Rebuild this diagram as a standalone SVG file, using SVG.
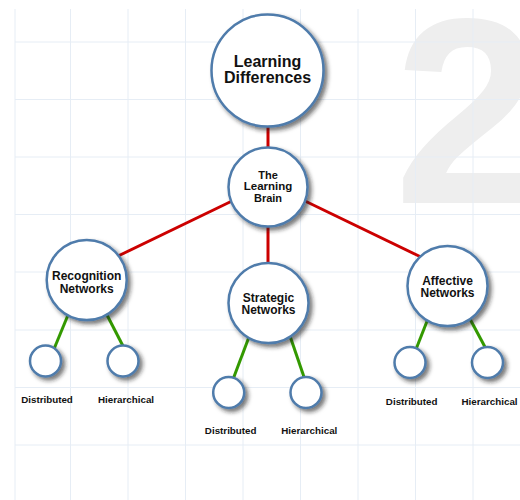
<svg xmlns="http://www.w3.org/2000/svg" width="520" height="500" viewBox="0 0 520 500">
  <style>
    .grid line { stroke: #e6edf5; stroke-width: 1; }
    .node circle { fill: #ffffff; stroke: #4f7bab; stroke-width: 2.5; filter: url(#shadow); }
    .title { font-family: "Liberation Sans", Arial, sans-serif; font-weight: bold; fill: #111111; text-anchor: middle; }
    .label { font-family: "Liberation Sans", Arial, sans-serif; font-weight: bold; font-size: 9.8px; fill: #111111; text-anchor: middle; }
    .red { stroke: #cc0000; stroke-width: 3; }
    .green { stroke: #339900; stroke-width: 3; }
  </style>
  <defs>
    <filter id="shadow" x="-30%" y="-30%" width="170%" height="170%">
      <feDropShadow dx="3" dy="3" stdDeviation="2" flood-color="#222222" flood-opacity="0.6"/>
    </filter>
  </defs>

  <rect width="520" height="500" fill="#ffffff"/>

  <!-- watermark numeral -->
  <text x="394" y="203" font-family="Liberation Sans, Arial, sans-serif" font-weight="bold" font-size="265" fill="#eeeeee">2</text>

  <!-- background grid -->
  <g class="grid">
    <line x1="15" y1="9" x2="15" y2="500"/>
    <line x1="70.5" y1="9" x2="70.5" y2="500"/>
    <line x1="128" y1="9" x2="128" y2="500"/>
    <line x1="185.5" y1="9" x2="185.5" y2="500"/>
    <line x1="243" y1="9" x2="243" y2="500"/>
    <line x1="300.5" y1="9" x2="300.5" y2="500"/>
    <line x1="358" y1="9" x2="358" y2="500"/>
    <line x1="415.5" y1="9" x2="415.5" y2="500"/>
    <line x1="473" y1="9" x2="473" y2="500"/>
    <line x1="15" y1="42" x2="520" y2="42"/>
    <line x1="15" y1="99.5" x2="520" y2="99.5"/>
    <line x1="15" y1="157" x2="520" y2="157"/>
    <line x1="15" y1="214.5" x2="520" y2="214.5"/>
    <line x1="15" y1="272" x2="520" y2="272"/>
    <line x1="15" y1="330" x2="520" y2="330"/>
    <line x1="15" y1="387.5" x2="520" y2="387.5"/>
    <line x1="15" y1="445" x2="520" y2="445"/>
  </g>

  <!-- connectors -->
  <g id="connectors">
    <line class="red" x1="268" y1="125" x2="268" y2="149"/>
    <line class="red" x1="232" y1="201" x2="118" y2="256"/>
    <line class="red" x1="268" y1="225" x2="268" y2="266"/>
    <line class="red" x1="305" y1="201" x2="421" y2="257"/>
    <line class="green" x1="68" y1="315" x2="54" y2="349"/>
    <line class="green" x1="106.5" y1="314" x2="123.5" y2="347"/>
    <line class="green" x1="249" y1="337" x2="233.5" y2="378"/>
    <line class="green" x1="290" y1="336" x2="304" y2="377"/>
    <line class="green" x1="427.5" y1="320" x2="416.5" y2="348"/>
    <line class="green" x1="470" y1="319" x2="485" y2="347"/>
  </g>

  <g id="learning-differences" class="node">
    <circle cx="267.5" cy="70.5" r="56"/>
    <text class="title" font-size="16" x="267.5" y="66.5">Learning</text>
    <text class="title" font-size="16" x="267.5" y="82.5">Differences</text>
  </g>

  <g id="learning-brain" class="node">
    <circle cx="268" cy="187" r="39.5"/>
    <text class="title" font-size="11" x="268" y="178.5">The</text>
    <text class="title" font-size="11.5" x="268" y="190">Learning</text>
    <text class="title" font-size="11" x="268" y="201.5">Brain</text>
  </g>

  <g id="recognition-networks" class="node">
    <circle cx="86.7" cy="280" r="40"/>
    <text class="title" font-size="12" x="86.7" y="280">Recognition</text>
    <text class="title" font-size="12" x="86.7" y="292.5">Networks</text>
  </g>

  <g id="strategic-networks" class="node">
    <circle cx="268.5" cy="303" r="40"/>
    <text class="title" font-size="12" x="268.5" y="301.5">Strategic</text>
    <text class="title" font-size="12" x="268.5" y="314">Networks</text>
  </g>

  <g id="affective-networks" class="node">
    <circle cx="447.5" cy="286" r="40"/>
    <text class="title" font-size="12" x="447.5" y="284.5">Affective</text>
    <text class="title" font-size="12" x="447.5" y="297">Networks</text>
  </g>

  <g id="recognition-distributed" class="node">
    <circle cx="45.5" cy="361" r="15.5"/>
    <text class="label" x="47" y="403">Distributed</text>
  </g>
  <g id="recognition-hierarchical" class="node">
    <circle cx="123" cy="361" r="15.5"/>
    <text class="label" x="126" y="403">Hierarchical</text>
  </g>

  <g id="strategic-distributed" class="node">
    <circle cx="228.7" cy="392.5" r="15.5"/>
    <text class="label" x="230.7" y="434">Distributed</text>
  </g>
  <g id="strategic-hierarchical" class="node">
    <circle cx="306" cy="392.5" r="15.5"/>
    <text class="label" x="309.3" y="434">Hierarchical</text>
  </g>

  <g id="affective-distributed" class="node">
    <circle cx="410" cy="362.5" r="15.5"/>
    <text class="label" x="411.7" y="405">Distributed</text>
  </g>
  <g id="affective-hierarchical" class="node">
    <circle cx="487.5" cy="362.5" r="15.5"/>
    <text class="label" x="489.5" y="405">Hierarchical</text>
  </g>
</svg>
